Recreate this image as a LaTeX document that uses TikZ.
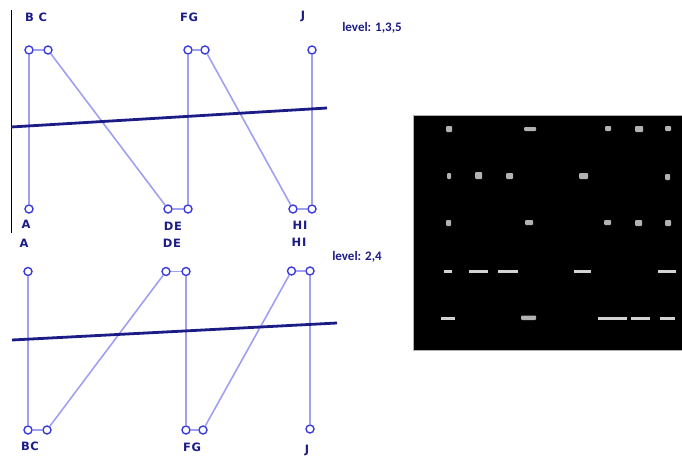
\documentclass[tikz,border=0pt]{standalone}
\usepackage{fontspec}
\newfontfamily\labfont[LetterSpace=6]{DejaVu Sans}
\newfontfamily\lvfont{Carlito}
\begin{document}
\begin{tikzpicture}[x=1pt,y=-1pt,
  pt/.style={circle,draw=ptblue,fill=white,line width=1.4pt,inner sep=0pt,minimum size=8pt},
  link/.style={draw=linkblue,line width=1.6pt},
  cut/.style={draw=navy,line width=2.8pt},
  lab/.style={text=navy,font=\labfont\bfseries\fontsize{11.5}{13}\selectfont,inner sep=0pt},
  lvl/.style={text=navy,font=\lvfont\bfseries\fontsize{13}{15}\selectfont,inner sep=0pt},
  blob/.style={fill=gray!60,draw=none,rounded corners=1pt},
  faint/.style={fill=gray!35,draw=none}]
\definecolor{ptblue}{HTML}{3A3ADE}
\definecolor{linkblue}{HTML}{A0A0F0}
\definecolor{navy}{HTML}{1C1C86}
\useasboundingbox (0,0) rectangle (682,455);
% left rule
\draw[line width=1pt,black] (11.5,10) -- (11.5,233);
% ---------- top panel ----------
\node[pt] (tB) at (29,50) {};
\node[pt] (tC) at (48,50) {};
\node[pt] (tA) at (29,209) {};
\node[pt] (tD) at (168,209) {};
\node[pt] (tE) at (188,209) {};
\node[pt] (tF) at (188,50) {};
\node[pt] (tG) at (205,50) {};
\node[pt] (tH) at (293,209) {};
\node[pt] (tI) at (312,209) {};
\node[pt] (tJ) at (312,50) {};
\draw[link] (tA) -- (tB);
\draw[link] (tB) -- (tC);
\draw[link] (tC) -- (tD);
\draw[link] (tD) -- (tE);
\draw[link] (tE) -- (tF);
\draw[link] (tF) -- (tG);
\draw[link] (tG) -- (tH);
\draw[link] (tH) -- (tI);
\draw[link] (tI) -- (tJ);
\coordinate (tcl) at (11,127);
\coordinate (tcr) at (327,108);
\draw[cut] (tcl) -- (tcr);
\node[lab] (ltBC) at (36,17) {B C};
\node[lab] (ltFG) at (189,17) {FG};
\node[lab] (ltJ) at (303,16) {J};
\node[lab] (ltA) at (26,224) {A};
\node[lab] (ltDE) at (173,226) {DE};
\node[lab] (ltHI) at (300,225) {HI};
\node[lvl] (lv1) at (372,28) {level: 1,3,5};
% ---------- bottom panel ----------
\node[pt] (bA) at (28,271.5) {};
\node[pt] (bD) at (166,271.5) {};
\node[pt] (bE) at (186,271.5) {};
\node[pt] (bH) at (291.5,271) {};
\node[pt] (bI) at (310,271) {};
\node[pt] (bB) at (28,430) {};
\node[pt] (bC) at (47,430) {};
\node[pt] (bF) at (186,430) {};
\node[pt] (bG) at (203,430) {};
\node[pt] (bJ) at (310,429) {};
\draw[link] (bA) -- (bB);
\draw[link] (bB) -- (bC);
\draw[link] (bC) -- (bD);
\draw[link] (bD) -- (bE);
\draw[link] (bE) -- (bF);
\draw[link] (bF) -- (bG);
\draw[link] (bG) -- (bH);
\draw[link] (bH) -- (bI);
\draw[link] (bI) -- (bJ);
\coordinate (bcl) at (12,340);
\coordinate (bcr) at (337,323);
\draw[cut] (bcl) -- (bcr);
\node[lab] (lbA) at (24,243) {A};
\node[lab] (lbDE) at (172,243) {DE};
\node[lab] (lbHI) at (299,242) {HI};
\node[lvl] (lv2) at (357,257) {level: 2,4};
\node[lab] (lbBC) at (30,446) {BC};
\node[lab] (lbFG) at (192,447) {FG};
\node[lab] (lbJ) at (307,450) {J};
% ---------- right dark panel ----------
\filldraw[fill=black,draw=gray!60,line width=0.6pt] (413,115) rectangle (682,350);
% row 1
\fill[blob] (446,126) rectangle (452,132);
\fill[blob] (524,127) rectangle (536,131);
\fill[blob] (605,126) rectangle (611,131);
\fill[blob] (635,126) rectangle (643,132);
\fill[blob] (665,126) rectangle (671,131);
% row 2
\fill[blob] (447,173) rectangle (451,179);
\fill[blob] (475,172) rectangle (482,179);
\fill[blob] (506,173) rectangle (513,179);
\fill[blob] (579,173) rectangle (588,179);
\fill[blob] (665,174) rectangle (670,180);
% row 3
\fill[blob] (446,220) rectangle (451,226);
\fill[blob] (525,220) rectangle (533,225);
\fill[blob] (604,220) rectangle (611,225);
\fill[blob] (635,220) rectangle (642,226);
\fill[blob] (665,220) rectangle (671,226);
% row 4
\fill[faint] (444,269.5) rectangle (452,272.5);
\fill[faint] (469,269.5) rectangle (488,272.5);
\fill[faint] (498,269.5) rectangle (518,272.5);
\fill[faint] (574,269.5) rectangle (591,273);
\fill[faint] (658,269.5) rectangle (676,273);
% row 5
\fill[faint] (441,316.5) rectangle (455,319.5);
\fill[blob] (521,315.5) rectangle (536,320);
\fill[faint] (598,316.5) rectangle (627,319.5);
\fill[faint] (631,316.5) rectangle (650,319.5);
\fill[faint] (660,316.5) rectangle (675,319.5);
\end{tikzpicture}
\end{document}
